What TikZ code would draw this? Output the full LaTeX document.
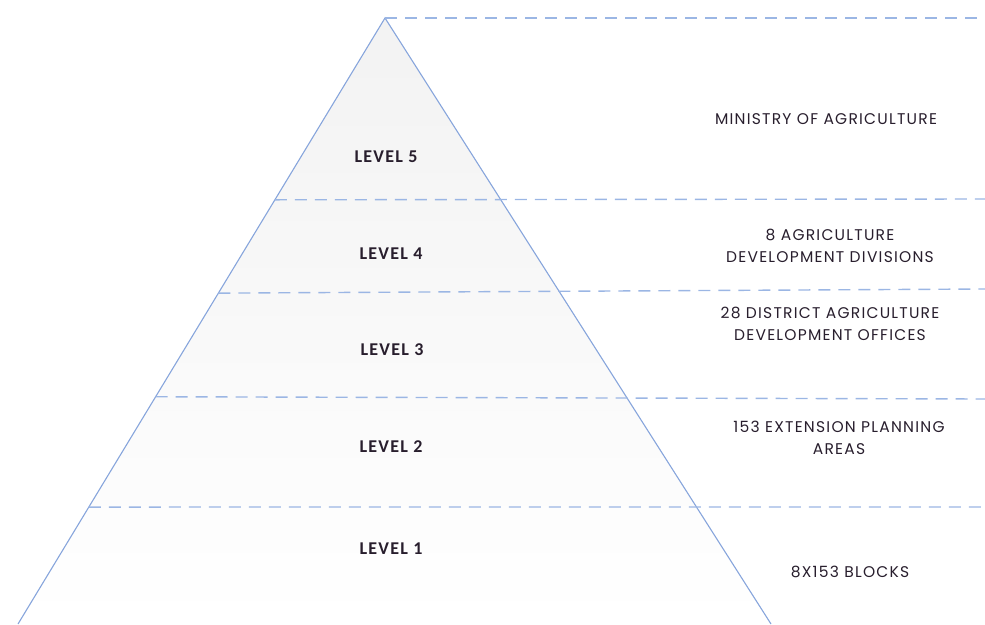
\documentclass[tikz,border=0pt]{standalone}
\usepackage{fontspec}
\usetikzlibrary{calc}
\newfontfamily\rightfont[LetterSpace=8]{Poppins}
\newfontfamily\levelfont[LetterSpace=7]{Carlito}
\definecolor{edgeblue}{RGB}{135,165,220}
\definecolor{dashblue}{RGB}{155,182,228}
\definecolor{txt}{RGB}{40,30,45}
\tikzset{
  edgeline/.style={draw=edgeblue, line width=1.1pt},
  levelline/.style={draw=dashblue, line width=1.4pt, dash pattern=on 12pt off 8pt},
  leveltext/.style={text=txt, font=\levelfont\bfseries\fontsize{18}{20}\selectfont, inner sep=0pt},
  unittext/.style={text=txt, font=\rightfont\fontsize{15.5}{22}\selectfont, align=center, inner sep=0pt}
}
\begin{document}
\begin{tikzpicture}[x=1pt,y=-1pt]
\useasboundingbox (0,0) rectangle (985,624);
\coordinate (apex) at (385,18);
\coordinate (bl) at (18,624);
\coordinate (br) at (771,624);
\shade[top color=black!5, middle color=black!1.5, bottom color=white] (apex) -- (bl) -- (br) -- cycle;
\draw[edgeline] (bl) -- (apex) -- (br);
% level separators
\coordinate (l5r) at (985,18);
\coordinate (l4l) at ($(apex)!0.300!(bl)$);
\coordinate (l4r) at (985,199);
\coordinate (l3l) at ($(apex)!0.454!(bl)$);
\coordinate (l3r) at (985,289);
\coordinate (l2l) at ($(apex)!0.625!(bl)$);
\coordinate (l2r) at (985,399);
\coordinate (l1l) at ($(apex)!0.807!(bl)$);
\coordinate (l1r) at (985,507);
\draw[levelline] (apex) -- (l5r);
\draw[levelline] (l4l) -- (l4r);
\draw[levelline] (l3l) -- (l3r);
\draw[levelline] (l2l) -- (l2r);
\draw[levelline] (l1l) -- (l1r);
% level labels
\node[leveltext] (lv5) at (386,157) {LEVEL 5};
\node[leveltext] (lv4) at (391,254) {LEVEL 4};
\node[leveltext] (lv3) at (392,350) {LEVEL 3};
\node[leveltext] (lv2) at (391,447) {LEVEL 2};
\node[leveltext] (lv1) at (391,549) {LEVEL 1};
% unit labels
\node[unittext] (u5) at (826,119) {MINISTRY OF AGRICULTURE};
\node[unittext] (u4) at (830,246) {8 AGRICULTURE\\DEVELOPMENT DIVISIONS};
\node[unittext] (u3) at (830,324) {28 DISTRICT AGRICULTURE\\DEVELOPMENT OFFICES};
\node[unittext] (u2) at (839,438) {153 EXTENSION PLANNING\\AREAS};
\node[unittext] (u1) at (850,572) {8X153 BLOCKS};
\end{tikzpicture}
\end{document}
